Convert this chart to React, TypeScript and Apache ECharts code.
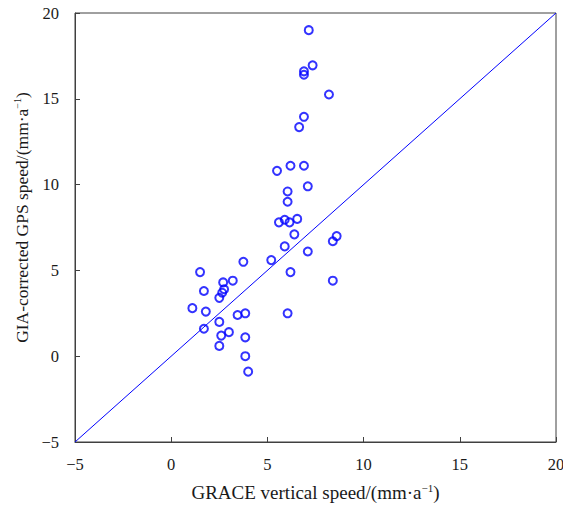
import React, { useEffect, useRef } from "react";
import * as echarts from "echarts";

const graceSpeed = [
  7.15, 7.35, 6.9, 6.9, 8.2, 6.9, 6.65, 5.5, 6.2, 6.9, 7.1, 6.05, 6.05, 5.6, 5.9, 6.15,
  6.55, 6.4, 5.9, 7.1, 8.4, 8.6, 5.2, 6.2, 8.4, 6.05, 1.5, 3.75, 2.7, 3.2, 1.7, 2.75,
  2.65, 2.5, 1.1, 1.8, 3.45, 3.85, 2.5, 1.7, 3.0, 2.6, 3.85, 2.5, 3.85, 4.0,
];
const gpsSpeed = [
  19.0, 16.95, 16.6, 16.4, 15.25, 13.95, 13.35, 10.8, 11.1, 11.1, 9.9, 9.6, 9.0, 7.8, 7.95, 7.8,
  8.0, 7.1, 6.4, 6.1, 6.7, 7.0, 5.6, 4.9, 4.4, 2.5, 4.9, 5.5, 4.3, 4.4, 3.8, 3.9,
  3.7, 3.4, 2.8, 2.6, 2.4, 2.5, 2.0, 1.6, 1.4, 1.2, 1.1, 0.6, 0.0, -0.9,
];
const refLineX = [-5, 20];
const axisMin = -5;
const axisMax = 20;
const axisStep = 5;
const xName = "GRACE vertical speed/(mm·a{sup|−1})";
const yName = "GIA-corrected GPS speed/(mm·a{sup|−1})";

const font = "Times New Roman";
const fmt = (v: number) => String(v).replace("-", "\u2212");

export default function App() {
  const ref = useRef<HTMLDivElement>(null);
  useEffect(() => {
    if (!ref.current) return;
    const chart = echarts.init(ref.current, null, { renderer: "svg" });
    const points = graceSpeed.map((x, i) => [x, gpsSpeed[i]]);
    const line = refLineX.map((v) => [v, v]);
    const mkName = (size: number, sup: number, pad: number[]) => ({
      fontFamily: font,
      fontSize: size,
      color: "#1a1a1a",
      padding: pad,
      rich: {
        sup: { fontFamily: font, fontSize: sup, color: "#1a1a1a", padding: [0, 0, 9, 0] },
      },
    });
    const axisCommon = {
      type: "value" as const,
      min: axisMin,
      max: axisMax,
      interval: axisStep,
      nameLocation: "middle" as const,
      axisLine: { show: true, onZero: false, lineStyle: { color: "#404040", width: 1 } },
      axisTick: { show: true, inside: true, length: 5, lineStyle: { color: "#404040" } },
      axisLabel: { fontFamily: font, fontSize: 16.5, color: "#1a1a1a", formatter: fmt },
      splitLine: { show: false },
    };
    chart.setOption({
      animation: false,
      backgroundColor: "#fff",
      textStyle: { fontFamily: font },
      grid: {
        left: 75,
        top: 13,
        right: 7,
        bottom: 66,
        show: true,
        borderColor: "#404040",
        borderWidth: 1,
        containLabel: false,
        outerBoundsMode: "none",
      },
      xAxis: {
        ...axisCommon,
        name: xName,
        nameGap: 40,
        nameTextStyle: mkName(19, 11, [0, 0, 0, 0]),
        axisLabel: { ...axisCommon.axisLabel, margin: 14 },
      },
      yAxis: {
        ...axisCommon,
        name: yName,
        nameGap: 44,
        nameTextStyle: mkName(17.5, 10, [0, 0, 0, 20]),
        axisLabel: { ...axisCommon.axisLabel, margin: 16 },
      },
      series: [
        {
          type: "line",
          data: line,
          symbol: "none",
          lineStyle: { color: "#0000ff", width: 1 },
          z: 1,
        },
        {
          type: "scatter",
          data: points,
          symbol: "circle",
          symbolSize: 8,
          itemStyle: { color: "#ffffff00", borderColor: "#0000ff", borderWidth: 2 },
          z: 2,
        },
      ],
    });
    return () => chart.dispose();
  }, []);
  return (
    <div
      ref={ref}
      style={{ position: "absolute", left: 0, top: 0, width: 563, height: 508 }}
    />
  );
}
